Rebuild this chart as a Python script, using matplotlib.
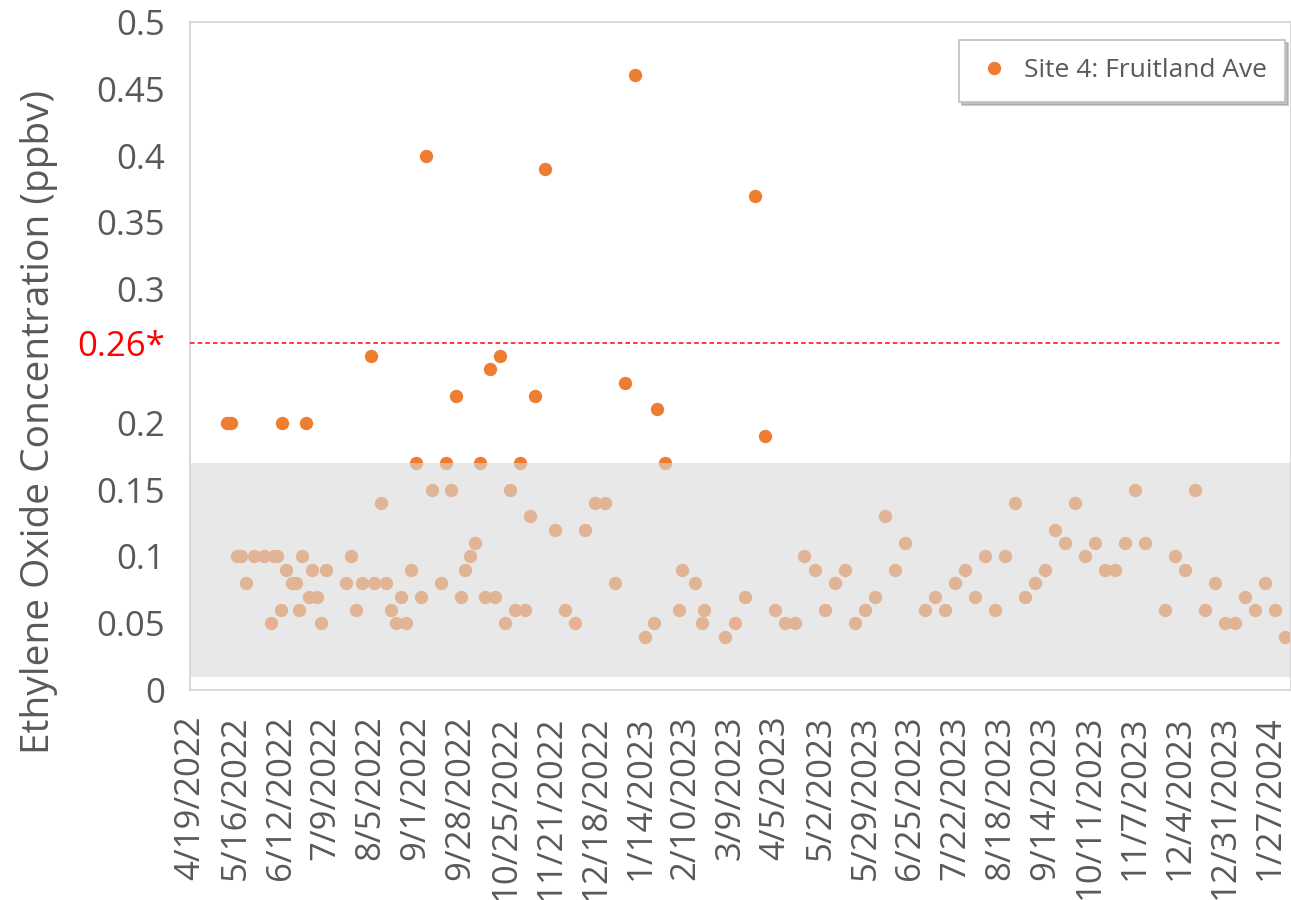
import pandas as pd
import matplotlib.pyplot as plt
from matplotlib.patches import Rectangle

plt.rcParams['font.family'] = ['Open Sans', 'DejaVu Sans']

# sample dates and ethylene oxide values (ppbv)
sample_dates = [
    '5/11/2022', '5/13/2022', '5/17/2022', '5/19/2022', '5/22/2022', '5/27/2022',
    '6/2/2022', '6/6/2022', '6/8/2022', '6/10/2022', '6/12/2022', '6/13/2022',
    '6/15/2022', '6/19/2022', '6/21/2022', '6/23/2022', '6/25/2022', '6/27/2022',
    '6/29/2022', '7/1/2022', '7/4/2022', '7/6/2022', '7/9/2022', '7/21/2022',
    '7/24/2022', '7/27/2022', '7/31/2022', '8/5/2022', '8/7/2022', '8/11/2022',
    '8/14/2022', '8/17/2022', '8/20/2022', '8/23/2022', '8/26/2022', '8/29/2022',
    '9/1/2022', '9/4/2022', '9/7/2022', '9/11/2022', '9/16/2022', '9/19/2022',
    '9/22/2022', '9/25/2022', '9/28/2022', '10/1/2022', '10/4/2022', '10/7/2022',
    '10/10/2022', '10/13/2022', '10/16/2022', '10/19/2022', '10/22/2022', '10/25/2022',
    '10/28/2022', '10/31/2022', '11/3/2022', '11/6/2022', '11/9/2022', '11/12/2022',
    '11/18/2022', '11/24/2022', '11/30/2022', '12/6/2022', '12/12/2022', '12/18/2022',
    '12/24/2022', '12/30/2022', '1/5/2023', '1/11/2023', '1/17/2023', '1/22/2023',
    '1/24/2023', '1/29/2023', '2/6/2023', '2/8/2023', '2/16/2023', '2/20/2023',
    '2/21/2023', '3/6/2023', '3/12/2023', '3/18/2023', '3/24/2023', '3/30/2023',
    '4/5/2023', '4/11/2023', '4/17/2023', '4/22/2023', '4/29/2023', '5/5/2023',
    '5/11/2023', '5/17/2023', '5/23/2023', '5/29/2023', '6/4/2023', '6/10/2023',
    '6/16/2023', '6/22/2023', '7/4/2023', '7/10/2023', '7/16/2023', '7/22/2023',
    '7/28/2023', '8/3/2023', '8/9/2023', '8/15/2023', '8/21/2023', '8/27/2023',
    '9/2/2023', '9/8/2023', '9/14/2023', '9/20/2023', '9/26/2023', '10/2/2023',
    '10/8/2023', '10/14/2023', '10/20/2023', '10/26/2023', '11/1/2023', '11/7/2023',
    '11/13/2023', '11/25/2023', '12/1/2023', '12/7/2023', '12/13/2023', '12/19/2023',
    '12/25/2023', '12/31/2023', '1/6/2024', '1/12/2024', '1/18/2024', '1/24/2024',
    '1/30/2024', '2/5/2024',
]
concentration = [
    0.20, 0.20, 0.10, 0.10, 0.08, 0.10,
    0.10, 0.05, 0.10, 0.10, 0.06, 0.20,
    0.09, 0.08, 0.08, 0.06, 0.10, 0.20,
    0.07, 0.09, 0.07, 0.05, 0.09, 0.08,
    0.10, 0.06, 0.08, 0.25, 0.08, 0.14,
    0.08, 0.06, 0.05, 0.07, 0.05, 0.09,
    0.17, 0.07, 0.40, 0.15, 0.08, 0.17,
    0.15, 0.22, 0.07, 0.09, 0.10, 0.11,
    0.17, 0.07, 0.24, 0.07, 0.25, 0.05,
    0.15, 0.06, 0.17, 0.06, 0.13, 0.22,
    0.39, 0.12, 0.06, 0.05, 0.12, 0.14,
    0.14, 0.08, 0.23, 0.46, 0.04, 0.05,
    0.21, 0.17, 0.06, 0.09, 0.08, 0.05,
    0.06, 0.04, 0.05, 0.07, 0.37, 0.19,
    0.06, 0.05, 0.05, 0.10, 0.09, 0.06,
    0.08, 0.09, 0.05, 0.06, 0.07, 0.13,
    0.09, 0.11, 0.06, 0.07, 0.06, 0.08,
    0.09, 0.07, 0.10, 0.06, 0.10, 0.14,
    0.07, 0.08, 0.09, 0.12, 0.11, 0.14,
    0.10, 0.11, 0.09, 0.09, 0.11, 0.15,
    0.11, 0.06, 0.10, 0.09, 0.15, 0.06,
    0.08, 0.05, 0.05, 0.07, 0.06, 0.08,
    0.06, 0.04,
]

tick_dates = [
    '4/19/2022', '5/16/2022', '6/12/2022', '7/9/2022', '8/5/2022', '9/1/2022',
    '9/28/2022', '10/25/2022', '11/21/2022', '12/18/2022', '1/14/2023', '2/10/2023',
    '3/9/2023', '4/5/2023', '5/2/2023', '5/29/2023', '6/25/2023', '7/22/2023',
    '8/18/2023', '9/14/2023', '10/11/2023', '11/7/2023', '12/4/2023', '12/31/2023',
    '1/27/2024',
]
y_ticks = [0, 0.05, 0.1, 0.15, 0.2, 0.26, 0.3, 0.35, 0.4, 0.45, 0.5]
y_labels = ['0', '0.05', '0.1', '0.15', '0.2', '0.26*', '0.3', '0.35', '0.4', '0.45', '0.5']
threshold = 0.26
band_low, band_high = 0.01, 0.17

x = pd.to_datetime(sample_dates, format='%m/%d/%Y')
ticks = pd.to_datetime(tick_dates, format='%m/%d/%Y')

fig = plt.figure(figsize=(12.91, 9), dpi=100)
ax = fig.add_axes([0.147, 0.2333, 0.853, 0.7423])

ax.plot(x, concentration, 'o', color='#ED7D31', markersize=9.6,
        markeredgewidth=0, label='Site 4: Fruitland Ave', zorder=2)

x_start = pd.Timestamp('2022-04-18 12:00')
x_end = pd.Timestamp('2024-02-08 12:00')
ax.set_xlim(x_start, x_end)
ax.set_ylim(0, 0.5)

# translucent band drawn on top of the points
band = Rectangle((0, band_low), 1, band_high - band_low, transform=ax.get_yaxis_transform(),
                 facecolor='#D9D9D9', alpha=0.6, edgecolor='none', zorder=3)
ax.add_patch(band)

ax.axhline(threshold, xmin=0, xmax=0.99, color='#FF0000', linewidth=1.1,
           linestyle=(0, (3, 2)), zorder=4)

ax.set_xticks(ticks)
ax.set_xticklabels(tick_dates, rotation=90, fontsize=25, color='#595959')
ax.set_yticks(y_ticks)
ax.set_yticklabels(y_labels, fontsize=25, color='#595959')
for lab in ax.get_yticklabels():
    if lab.get_text() == '0.26*':
        lab.set_color('#FF0000')
ax.tick_params(axis='both', length=0)
ax.tick_params(axis='x', pad=18)
ax.tick_params(axis='y', pad=18)

for s in ax.spines.values():
    s.set_color('#D9D9D9')
    s.set_linewidth(1.5)

fig.text(0.03, 0.531, 'Ethylene Oxide Concentration (ppbv)', rotation=90,
         va='center', ha='center', fontsize=28, color='#595959')

leg = ax.legend(loc='upper right', bbox_to_anchor=(0.995, 0.973), borderaxespad=0,
                fontsize=19, frameon=True, fancybox=False,
                shadow={'color': '#9A9A9A', 'alpha': 0.6},
                borderpad=0.7, handlelength=1.2, handletextpad=0.55, markerscale=1.0)
leg.get_frame().set_edgecolor('#BFBFBF')
leg.get_frame().set_linewidth(1.2)
for t in leg.get_texts():
    t.set_color('#595959')

fig.savefig('out.png', dpi=100)
